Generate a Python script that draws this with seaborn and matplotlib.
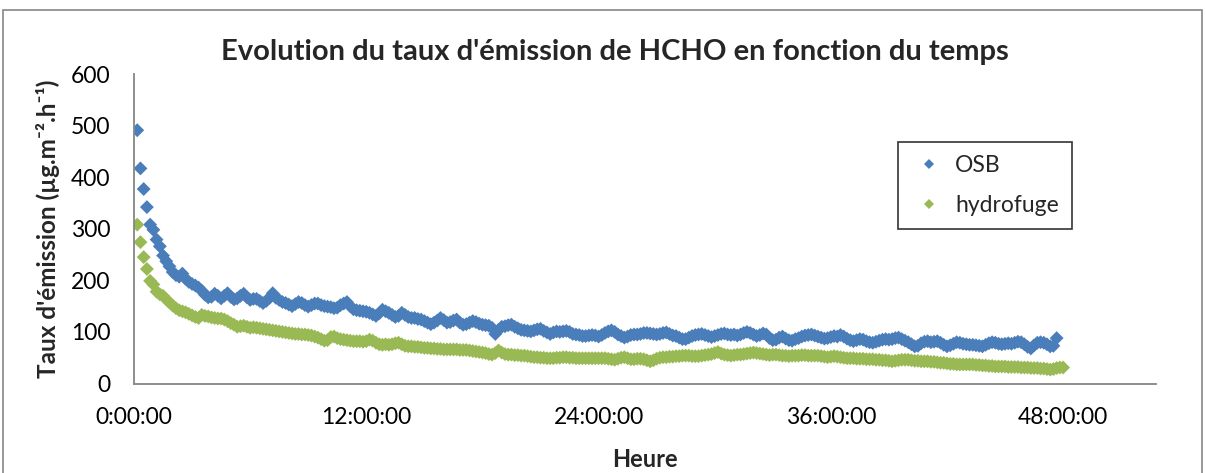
import numpy as np
import pandas as pd
import matplotlib
matplotlib.use("Agg")
import matplotlib.pyplot as plt
from matplotlib.patches import Rectangle
from matplotlib.lines import Line2D
import seaborn as sns

# Sampling: one measurement every 10 minutes, first one after 10 minutes (hours)
STEP_H = 10 / 60

# HCHO emission rate, OSB panel (µg.m-2.h-1), one row per hour of test
osb = [
    491, 417, 377, 342, 308, 298,
    279, 266, 248, 237, 227, 216,
    210, 207, 213, 203, 197, 193,
    190, 186, 180, 172, 167, 168,
    174, 170, 165, 170, 175, 168,
    163, 165, 170, 174, 167, 162,
    164, 164, 160, 156, 160, 166,
    175, 166, 162, 158, 156, 153,
    150, 154, 158, 156, 152, 149,
    152, 155, 155, 152, 150, 149,
    148, 146, 147, 152, 155, 158,
    150, 144, 142, 141, 140, 139,
    137, 134, 131, 136, 143, 140,
    137, 133, 129, 131, 137, 133,
    129, 127, 127, 125, 124, 121,
    118, 115, 118, 122, 127, 123,
    118, 119, 122, 124, 118, 114,
    115, 118, 121, 119, 116, 114,
    113, 112, 108, 96, 104, 110,
    111, 113, 114, 110, 107, 104,
    103, 102, 101, 103, 105, 106,
    102, 99, 96, 99, 101, 100,
    101, 102, 100, 96, 95, 94,
    92, 92, 93, 94, 93, 91,
    94, 98, 101, 103, 100, 95,
    92, 89, 91, 94, 95, 95,
    96, 98, 98, 97, 96, 95,
    96, 98, 99, 96, 93, 92,
    89, 86, 86, 89, 92, 94,
    95, 96, 94, 92, 90, 92,
    94, 96, 97, 95, 94, 95,
    93, 95, 98, 100, 98, 95,
    92, 94, 97, 95, 88, 84,
    85, 89, 91, 87, 84, 83,
    86, 88, 91, 93, 94, 95,
    93, 91, 89, 87, 88, 90,
    92, 91, 94, 91, 87, 84,
    82, 84, 86, 85, 82, 80,
    79, 81, 83, 85, 86, 85,
    86, 88, 89, 86, 83, 80,
    76, 72, 73, 78, 81, 82,
    80, 81, 82, 79, 75, 72,
    74, 77, 80, 79, 77, 76,
    75, 75, 74, 73, 72, 75,
    78, 80, 79, 77, 76, 77,
    78, 77, 79, 81, 80, 76,
    71, 68, 74, 79, 80, 79,
    76, 72, 73, 88,
]

# HCHO emission rate, water-resistant panel (µg.m-2.h-1)
hydrofuge = [
    308, 274, 245, 222, 199, 192,
    178, 173, 170, 163, 157, 151,
    146, 142, 140, 138, 135, 132,
    129, 127, 133, 131, 130, 128,
    127, 126, 126, 124, 121, 117,
    114, 110, 111, 112, 110, 108,
    109, 108, 107, 106, 105, 104,
    103, 102, 101, 100, 99, 98,
    97, 96, 96, 95, 95, 94,
    93, 91, 89, 86, 83, 84,
    90, 91, 88, 86, 85, 84,
    83, 82, 82, 82, 81, 82,
    85, 83, 79, 76, 75, 76,
    75, 76, 78, 79, 76, 73,
    72, 72, 71, 71, 70, 69,
    69, 68, 68, 67, 67, 66,
    66, 66, 66, 66, 65, 65,
    65, 64, 63, 62, 61, 60,
    59, 57, 56, 59, 64, 60,
    57, 56, 56, 55, 55, 54,
    54, 53, 52, 51, 51, 50,
    50, 49, 49, 49, 50, 50,
    51, 51, 50, 50, 49, 49,
    49, 49, 49, 49, 49, 49,
    49, 49, 48, 47, 46, 48,
    50, 51, 49, 47, 47, 48,
    48, 47, 45, 43, 45, 48,
    50, 51, 51, 52, 52, 53,
    53, 54, 54, 54, 53, 53,
    53, 54, 55, 56, 57, 59,
    61, 58, 56, 55, 54, 55,
    56, 56, 57, 58, 59, 60,
    59, 58, 57, 56, 55, 56,
    56, 55, 54, 54, 53, 54,
    54, 54, 55, 55, 54, 54,
    54, 54, 53, 52, 51, 52,
    53, 52, 51, 50, 49, 49,
    49, 48, 48, 48, 47, 47,
    47, 46, 46, 45, 45, 44,
    43, 44, 45, 46, 46, 46,
    45, 44, 44, 43, 43, 43,
    42, 42, 41, 40, 40, 39,
    38, 38, 37, 37, 37, 37,
    37, 37, 36, 36, 35, 35,
    34, 34, 33, 33, 33, 33,
    32, 32, 32, 32, 31, 31,
    31, 30, 30, 30, 29, 29,
    28, 27, 28, 30, 31, 31,
]

series_names = ["OSB", "hydrofuge"]
series_colors = ["#4A7EBB", "#98B954"]
x_ticks_h = [0, 12, 24, 36, 48]
x_tick_labels = ["0:00:00", "12:00:00", "24:00:00", "36:00:00", "48:00:00"]
y_ticks = [0, 100, 200, 300, 400, 500, 600]

title = "Evolution du taux d'émission de HCHO en fonction du temps"
y_label = "Taux d'émission (µg.m⁻².h⁻¹)"
x_label = "Heure"

frames = []
for name, vals in zip(series_names, [osb, hydrofuge]):
    t = STEP_H * np.arange(1, len(vals) + 1)
    frames.append(pd.DataFrame({"heure": t, "taux": vals, "serie": name}))
df = pd.concat(frames, ignore_index=True)

sns.set_theme(style="white")
plt.rcParams["font.family"] = ["Lato", "DejaVu Sans"]

W, H = 1206, 473
fig = plt.figure(figsize=(W / 100, H / 100), dpi=100)
ax = fig.add_axes([134 / W, 1 - 383.5 / H, (1156 - 134) / W, (383.5 - 74) / H])

sns.scatterplot(
    data=df, x="heure", y="taux", hue="serie",
    hue_order=series_names, palette=series_colors,
    marker="D", s=50, linewidth=0, ax=ax, legend=False,
)

ax.set_xlim(0, 52.8)
ax.set_ylim(0, 600)
ax.set_xticks(x_ticks_h)
ax.set_xticklabels(x_tick_labels)
ax.set_yticks(y_ticks)

grey = "#868686"
for side in ["top", "right"]:
    ax.spines[side].set_visible(False)
for side in ["left", "bottom"]:
    ax.spines[side].set_color(grey)
    ax.spines[side].set_linewidth(1.3)

ax.tick_params(axis="both", direction="out", length=6, width=1.2,
               color=grey, labelcolor="black", labelsize=16.5)
ax.tick_params(axis="y", pad=11)
ax.tick_params(axis="x", pad=11)

ax.set_xlabel(x_label, fontsize=17, fontweight="bold", labelpad=14)
ax.set_ylabel(y_label, fontsize=17.5, fontweight="bold", labelpad=8)

fig.text(615 / W, 1 - 52 / H, title, ha="center", va="center",
         fontsize=21, fontweight="bold")

handles = [
    Line2D([], [], linestyle="none", marker="D", markersize=5,
           markerfacecolor=c, markeredgewidth=0)
    for c in series_colors
]
leg = ax.legend(
    handles, series_names, loc="upper left",
    bbox_to_anchor=(898 / W, 1 - 142 / H), bbox_transform=fig.transFigure,
    frameon=True, fancybox=False, edgecolor="black", fontsize=16.5,
    borderpad=0.55, labelspacing=0.85, handlelength=1.6, handletextpad=0.35,
    borderaxespad=0,
)
leg.get_frame().set_linewidth(1.2)

# outer chart frame
fig.add_artist(Rectangle((3 / W, -0.1), 1199 / W, 1.1 - 10 / H,
                         transform=fig.transFigure, fill=False,
                         edgecolor=grey, linewidth=1.2))

fig.savefig("out.png", dpi=100)
